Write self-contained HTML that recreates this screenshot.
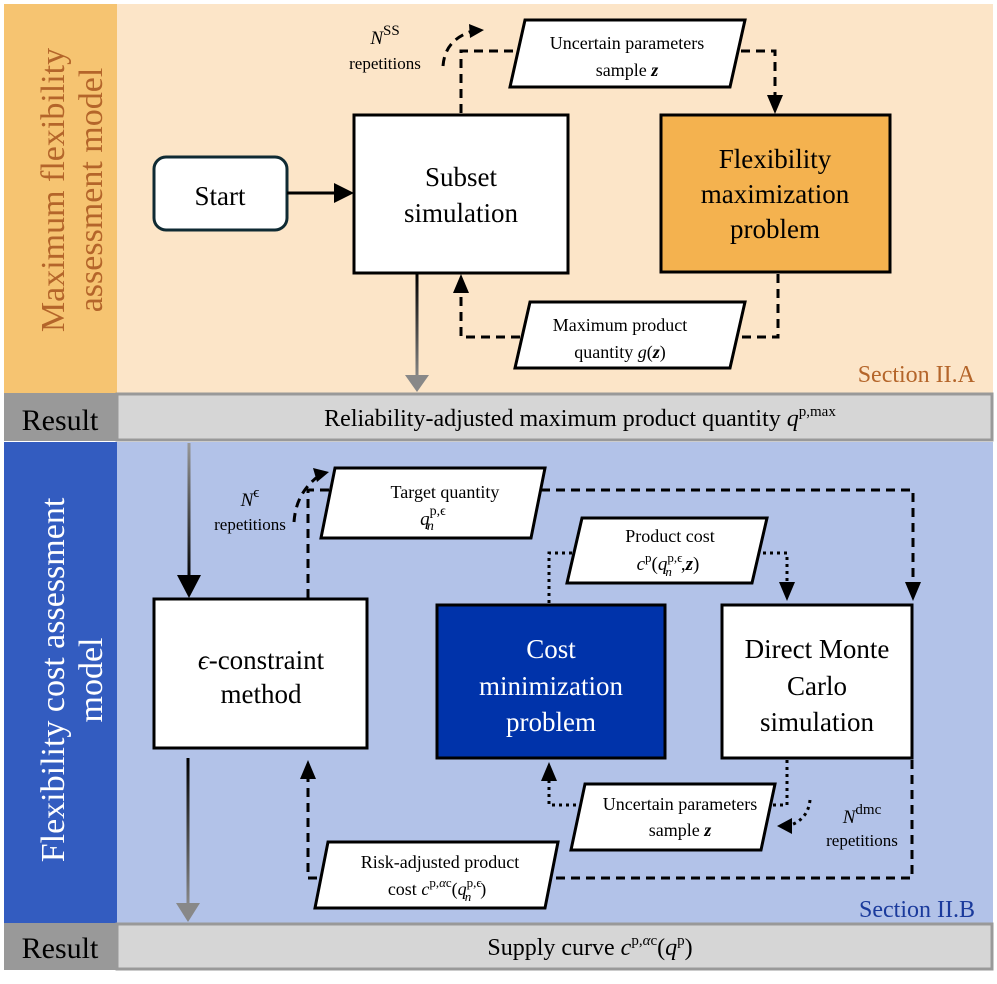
<!DOCTYPE html>
<html><head><meta charset="utf-8"><style>
html,body{margin:0;padding:0;background:#fff}
svg{display:block}
text{font-family:"Liberation Serif",serif;fill:#000}
</style></head><body>
<svg width="997" height="984" viewBox="0 0 997 984" xmlns="http://www.w3.org/2000/svg">
<defs>
<linearGradient id="g1" gradientUnits="userSpaceOnUse" x1="0" y1="274" x2="0" y2="392"><stop offset="0" stop-color="#000"/><stop offset="1" stop-color="#999"/></linearGradient>
<linearGradient id="g2" gradientUnits="userSpaceOnUse" x1="0" y1="443" x2="0" y2="580"><stop offset="0" stop-color="#999"/><stop offset="1" stop-color="#000"/></linearGradient>
<linearGradient id="g3" gradientUnits="userSpaceOnUse" x1="0" y1="758" x2="0" y2="922"><stop offset="0" stop-color="#000"/><stop offset="1" stop-color="#999"/></linearGradient>
</defs>
<rect x="4" y="4" width="113" height="389" fill="#F6C471"/>
<rect x="117" y="4" width="876" height="389" fill="#FCE5C8"/>
<rect x="4" y="393" width="113" height="48" fill="#999"/>
<rect x="117" y="394" width="875" height="46" fill="#D6D6D6" stroke="#999" stroke-width="3"/>
<rect x="4" y="442" width="113" height="481" fill="#335CC0"/>
<rect x="117" y="442" width="876" height="481" fill="#B2C2E8"/>
<rect x="4" y="923" width="113" height="47" fill="#999"/>
<rect x="117" y="924" width="875" height="45" fill="#D6D6D6" stroke="#999" stroke-width="3"/>

<text transform="translate(64,190) rotate(-90)" text-anchor="middle" font-size="34" style="fill:#B4652A">Maximum flexibility</text>
<text transform="translate(102,190) rotate(-90)" text-anchor="middle" font-size="34" style="fill:#B4652A">assessment model</text>
<text transform="translate(64,680) rotate(-90)" text-anchor="middle" font-size="34" style="fill:#fff">Flexibility cost assessment</text>
<text transform="translate(102,680) rotate(-90)" text-anchor="middle" font-size="34" style="fill:#fff">model</text>
<text x="60" y="430" text-anchor="middle" font-size="30">Result</text>
<text x="60" y="958" text-anchor="middle" font-size="30">Result</text>
<text x="580" y="426" text-anchor="middle" font-size="24">Reliability-adjusted maximum product quantity <tspan font-style="italic">q</tspan><tspan font-size="15" dy="-10">p,max</tspan></text>
<text x="590" y="955" text-anchor="middle" font-size="24">Supply curve <tspan font-style="italic">c</tspan><tspan font-size="15" dy="-10">p,<tspan font-style="italic">α</tspan>c</tspan><tspan dy="10">(</tspan><tspan font-style="italic">q</tspan><tspan font-size="15" dy="-10">p</tspan><tspan dy="10">)</tspan></text>
<text x="975" y="382" text-anchor="end" font-size="24" style="fill:#B4652A">Section II.A</text>
<text x="975" y="917" text-anchor="end" font-size="24" style="fill:#1A3A9C">Section II.B</text>

<rect x="154" y="157" width="133" height="73" rx="12" fill="#fff" stroke="#0F2A33" stroke-width="3"/>
<text x="220" y="205" text-anchor="middle" font-size="27">Start</text>
<line x1="287" y1="193" x2="336" y2="193" stroke="#000" stroke-width="3"/>
<polygon points="334,183 354,193 334,203" fill="#000"/>
<rect x="354" y="115" width="214" height="158" fill="#fff" stroke="#000" stroke-width="3"/>
<text x="461" y="186" text-anchor="middle" font-size="27">Subset</text>
<text x="461" y="222" text-anchor="middle" font-size="27">simulation</text>
<rect x="661" y="115" width="229" height="157" fill="#F4B24F" stroke="#000" stroke-width="3"/>
<text x="775" y="168" text-anchor="middle" font-size="27">Flexibility</text>
<text x="775" y="203" text-anchor="middle" font-size="27">maximization</text>
<text x="775" y="238" text-anchor="middle" font-size="27">problem</text>

<polygon points="525,20 745,20 730,87 510,87" fill="#fff" stroke="#000" stroke-width="3"/>
<text x="627" y="49" text-anchor="middle" font-size="18">Uncertain parameters</text>
<text x="627" y="76" text-anchor="middle" font-size="18">sample <tspan font-weight="bold" font-style="italic">z</tspan></text>
<polygon points="530,302 745,302 730,368 515,368" fill="#fff" stroke="#000" stroke-width="3"/>
<text x="620" y="331" text-anchor="middle" font-size="18">Maximum product</text>
<text x="620" y="358" text-anchor="middle" font-size="18">quantity <tspan font-style="italic">g</tspan>(<tspan font-weight="bold" font-style="italic">z</tspan>)</text>

<g fill="none" stroke="#000" stroke-width="3" stroke-dasharray="9,6">
<polyline points="461,113 461,51 518,51"/>
<polyline points="741,51 775,51 775,105"/>
<polyline points="778,274 778,337 740,337"/>
<polyline points="520,337 461,337 461,285"/>
<path d="M443,66 Q445,38 476,30"/>
<path d="M294,522 Q296,492 320,475"/>
<polyline points="308,598 308,490 335,490"/>
<polyline points="541,490 913,490 913,590"/>
<polyline points="912,760 912,878 543,878"/>
<polyline points="317,878 308,878 308,770"/>
</g>
<path d="M469,24 L484,30 L470,38z" fill="#000"/>
<path d="M313,468 L329,472 L317,482z" fill="#000"/>
<polygon points="767,95 783,95 775,114" fill="#000"/>
<polygon points="453,293 469,293 461,274" fill="#000"/>
<polygon points="905,582 921,582 913,601" fill="#000"/>
<polygon points="300,779 316,779 308,760" fill="#000"/>
<text x="385" y="44" text-anchor="middle" font-size="19" font-style="italic">N<tspan font-style="normal" font-size="15" dy="-9">SS</tspan></text>
<text x="385" y="69" text-anchor="middle" font-size="17">repetitions</text>
<text x="250" y="506" text-anchor="middle" font-size="19" font-style="italic">N<tspan font-style="normal" font-size="15" dy="-9">ϵ</tspan></text>
<text x="250" y="530" text-anchor="middle" font-size="17">repetitions</text>
<text x="862" y="823" text-anchor="middle" font-size="19" font-style="italic">N<tspan font-style="normal" font-size="15" dy="-9">dmc</tspan></text>
<text x="862" y="846" text-anchor="middle" font-size="17">repetitions</text>

<line x1="417" y1="274" x2="417" y2="378" stroke="url(#g1)" stroke-width="3"/>
<polygon points="405,375 429,375 417,392" fill="#888"/>
<line x1="189" y1="443" x2="189" y2="585" stroke="url(#g2)" stroke-width="3"/>
<polygon points="177,575 201,575 189,598" fill="#000"/>
<line x1="188" y1="758" x2="188" y2="908" stroke="url(#g3)" stroke-width="3"/>
<polygon points="176,903 200,903 188,922" fill="#888"/>

<rect x="154" y="599" width="213" height="149" fill="#fff" stroke="#000" stroke-width="3"/>
<text x="261" y="669" text-anchor="middle" font-size="27"><tspan font-style="italic">ϵ</tspan>-constraint</text>
<text x="261" y="703" text-anchor="middle" font-size="27">method</text>
<rect x="437" y="605" width="228" height="153" fill="#0033AA" stroke="#000" stroke-width="3"/>
<text x="551" y="658" text-anchor="middle" font-size="27" style="fill:#fff">Cost</text>
<text x="551" y="695" text-anchor="middle" font-size="27" style="fill:#fff">minimization</text>
<text x="551" y="731" text-anchor="middle" font-size="27" style="fill:#fff">problem</text>
<rect x="722" y="605" width="190" height="153" fill="#fff" stroke="#000" stroke-width="3"/>
<text x="817" y="658" text-anchor="middle" font-size="27">Direct Monte</text>
<text x="817" y="695" text-anchor="middle" font-size="27">Carlo</text>
<text x="817" y="731" text-anchor="middle" font-size="27">simulation</text>

<g fill="none" stroke="#000" stroke-width="3" stroke-dasharray="3,4">
<polyline points="549,603 549,553 574,553"/>
<polyline points="763,553 787,553 787,590"/>
<polyline points="787,760 787,805 773,805"/>
<polyline points="576,805 549,805 549,778"/>
<path d="M810,800 Q808,820 788,826"/>
</g>
<polygon points="779,582 795,582 787,601" fill="#000"/>
<polygon points="541,781 557,781 549,762" fill="#000"/>
<polygon points="777,826 792,818 792,834" fill="#000"/>

<polygon points="335,468 545,468 531,538 321,538" fill="#fff" stroke="#000" stroke-width="3"/>
<text x="445" y="498" text-anchor="middle" font-size="18">Target quantity</text>
<text x="433" y="525" text-anchor="middle" font-size="19" font-style="italic">q<tspan font-size="14" font-style="normal" dy="-10">p,ϵ</tspan><tspan font-size="14" dx="-19" dy="15">n</tspan></text>
<polygon points="582,518 767,518 752,583 567,583" fill="#fff" stroke="#000" stroke-width="3"/>
<text x="670" y="542" text-anchor="middle" font-size="18">Product cost</text>
<text x="668" y="570" text-anchor="middle" font-size="19"><tspan font-style="italic">c</tspan><tspan font-size="13" dy="-8">p</tspan><tspan dy="8">(</tspan><tspan font-style="italic">q</tspan><tspan font-size="13" dy="-8">p,ϵ</tspan><tspan font-size="13" font-style="italic" dx="-17" dy="14">n</tspan><tspan dx="9" dy="-6">,</tspan><tspan font-weight="bold" font-style="italic">z</tspan>)</text>
<polygon points="585,784 775,784 761,850 571,850" fill="#fff" stroke="#000" stroke-width="3"/>
<text x="680" y="810" text-anchor="middle" font-size="18">Uncertain parameters</text>
<text x="680" y="836" text-anchor="middle" font-size="18">sample <tspan font-weight="bold" font-style="italic">z</tspan></text>
<polygon points="328,842 558,842 545,908 315,908" fill="#fff" stroke="#000" stroke-width="3"/>
<text x="440" y="868" text-anchor="middle" font-size="18">Risk-adjusted product</text>
<text x="437" y="895" text-anchor="middle" font-size="18">cost <tspan font-style="italic">c</tspan><tspan font-size="13" dy="-8">p,<tspan font-style="italic">α</tspan>c</tspan><tspan dy="8">(</tspan><tspan font-style="italic">q</tspan><tspan font-size="13" dy="-8">p,ϵ</tspan><tspan font-size="13" font-style="italic" dx="-17" dy="14">n</tspan><tspan dx="9" dy="-6">)</tspan></text>
</svg>
</body></html>
